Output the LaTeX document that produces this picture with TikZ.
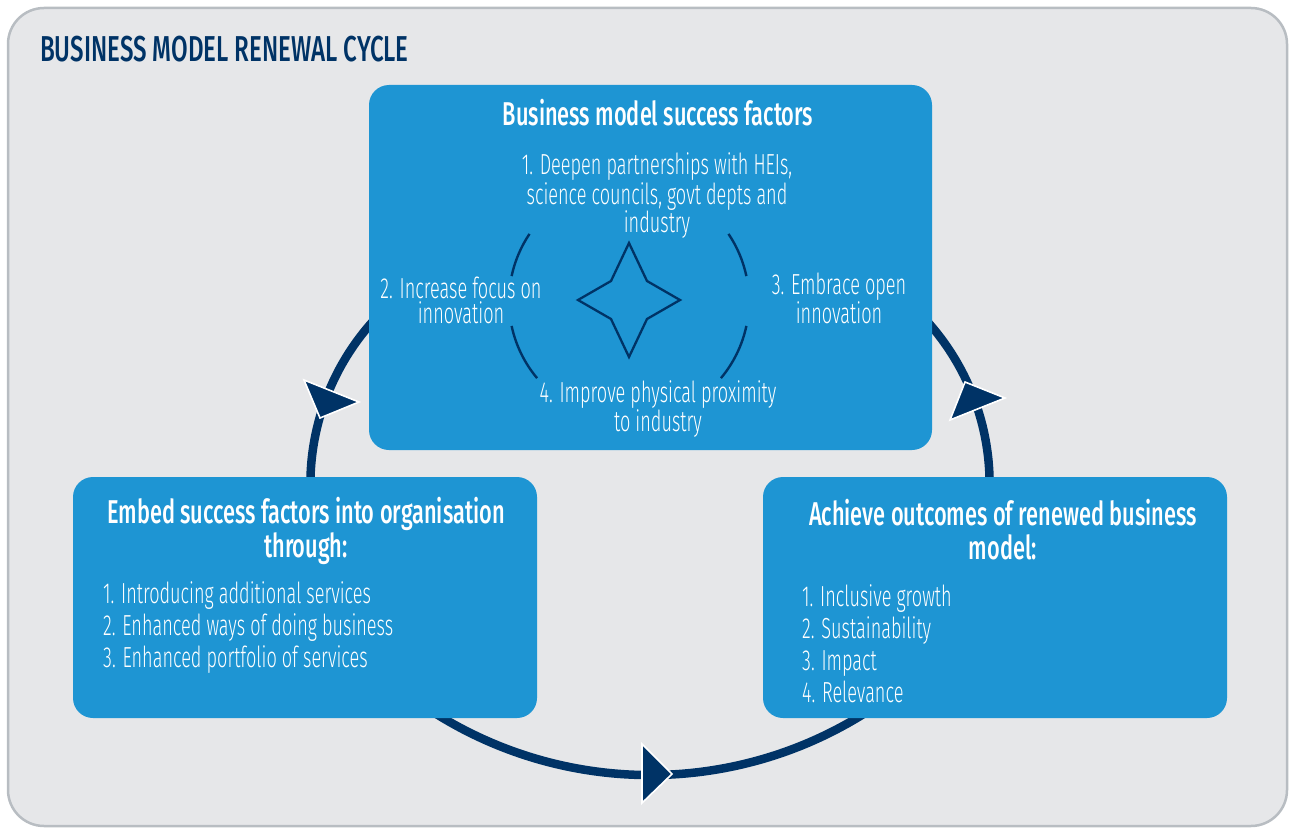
\documentclass[tikz,border=0pt]{standalone}
\usepackage{fontspec}
\setmainfont{Fira Sans}
\newfontfamily\titlefont{Fira Sans}[UprightFont=* Medium, FakeStretch=0.67]
\newfontfamily\headfont{Fira Sans}[UprightFont=* Medium, FakeStretch=0.66]
\newfontfamily\bodyfont{Fira Sans}[UprightFont=* Light, FakeStretch=0.625]
\usetikzlibrary{positioning,calc,backgrounds}

\definecolor{panelblue}{RGB}{30,149,211}
\definecolor{navy}{RGB}{0,51,102}
\definecolor{framegray}{RGB}{230,231,233}
\definecolor{edgegray}{RGB}{184,189,194}

\begin{document}
\begin{tikzpicture}[
    x=1pt, y=-1pt,
    frame/.style={draw=edgegray, line width=2.5pt, fill=framegray, rounded corners=36pt},
    panel/.style={rectangle, fill=panelblue, rounded corners=20pt, inner sep=0pt, outer sep=0pt},
    cycle line/.style={draw=navy, line width=8.5pt},
    tip head/.style={fill=navy, draw=white, line width=1.6pt, line join=miter},
    ring line/.style={draw=navy, line width=2.4pt},
    star line/.style={draw=navy, line width=2.3pt, line join=miter},
    title text/.style={font=\titlefont\fontsize{36}{40}\selectfont, text=navy, anchor=base west, inner sep=0pt},
    head text/.style={font=\headfont\fontsize{33}{34}\selectfont, text=white, align=center, anchor=base, inner sep=0pt},
    body text/.style={font=\bodyfont\fontsize{29}{#1}\selectfont, text=white, align=center, anchor=base, inner sep=0pt},
    body text/.default=29,
    list text/.style={font=\bodyfont\fontsize{29}{32}\selectfont, text=white, align=left, anchor=base west, inner sep=0pt}
]
    \useasboundingbox (0,0) rectangle (1290,829);

    % The three blocks of the cycle
    \node[panel, minimum width=563pt, minimum height=365pt] (factors) at (650.5,267.5) {};
    \node[panel, minimum width=464pt, minimum height=241pt] (embed) at (305,597.5) {};
    \node[panel, minimum width=464pt, minimum height=241pt] (achieve) at (995,597.5) {};

    % Frame and cycle arcs behind the blocks
    \begin{pgfonlayer}{background}
        \draw[frame] (8,8) rectangle (1287,826);
        \draw[cycle line] ([shift={(6,24)}]embed.north) arc[start angle=176, end angle=226, radius=243];
        \draw[cycle line] ([shift={(-6,24)}]achieve.north) arc[start angle=4, end angle=-46, radius=243];
        \draw[cycle line] ([shift={(-113,-12)}]embed.south east) arc[start angle=124, end angle=56, radius=404];
    \end{pgfonlayer}

    % Arrow heads on the cycle
    \filldraw[tip head] (304,380) -- (359,402) -- (320,418) -- cycle;
    \filldraw[tip head] (965,382) -- (1005,398) -- (950,420) -- cycle;
    \filldraw[tip head] (642,744) -- (672,774) -- (642,803) -- cycle;

    % Star and ring inside the success factors block
    \coordinate (ring) at (629,301);
    \draw[star line] (ring) ++(0,-58) -- ++(18,38) -- ++(33,19) -- ++(-33,19) -- ++(-18,38)
        -- ++(-18,-38) -- ++(-33,-19) -- ++(33,-19) -- cycle;
    \foreach \a/\b in {214/192, 168/140, -34/-12, 12/40}
        \draw[ring line] ([shift={(\a:120)}]ring) arc[start angle=\a, end angle=\b, radius=120];

    % Texts (multi-line nodes sit on the baseline of their last line)
    \node[title text] (title) at (40,62) {BUSINESS MODEL RENEWAL CYCLE};
    \node[head text] (factorshead) at (658,126) {Business model success factors};
    \node[body text] (sf1) at (657,233) {1. Deepen partnerships with HEIs,\\science councils, govt depts and\\industry};
    \node[body text=25] (sf2) at (461,323) {2. Increase focus on\\innovation};
    \node[body text=25] (sf3) at (839,323) {3. Embrace open\\innovation};
    \node[body text] (sf4) at (658,431) {4. Improve physical proximity\\to industry};

    \node[head text] (embedhead) at (306,557) {Embed success factors into organisation\\through:};
    \node[list text] (embedlist) at (103,667) {1. Introducing additional services\\2. Enhanced ways of doing business\\3. Enhanced portfolio of services};

    \node[head text] (achievehead) at (1003,559) {Achieve outcomes of renewed business\\model:};
    \node[list text] (achievelist) at (802,702) {1. Inclusive growth\\2. Sustainability\\3. Impact\\4. Relevance};
\end{tikzpicture}
\end{document}
